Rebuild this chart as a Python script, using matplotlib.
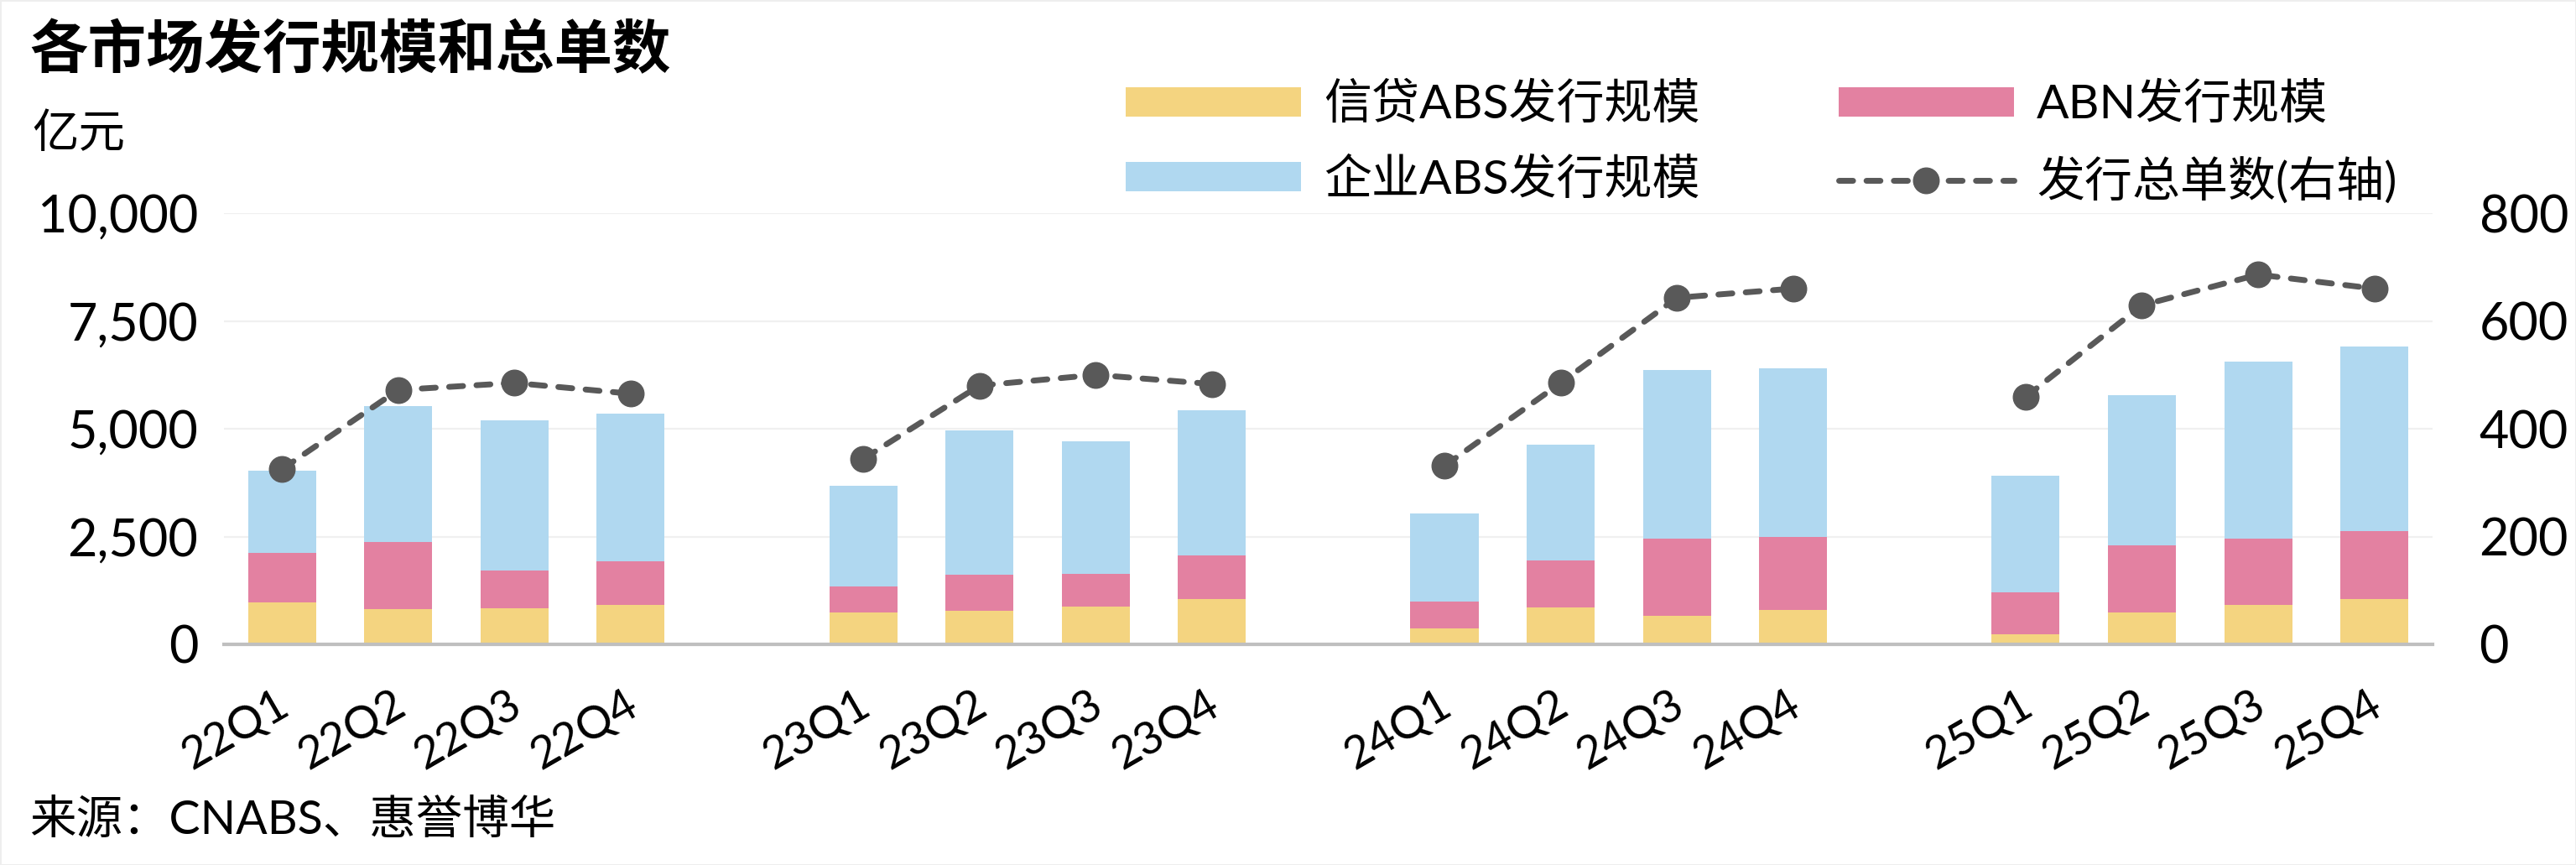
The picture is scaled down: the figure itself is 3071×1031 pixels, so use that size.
import matplotlib
matplotlib.use("Agg")
import matplotlib.pyplot as plt
import matplotlib.transforms as mtransforms
from matplotlib.ticker import FuncFormatter, FixedLocator

plt.rcParams['font.family'] = ['Lato', 'Noto Sans CJK SC', 'DejaVu Sans']

# ---------------- data ----------------
quarters = ["22Q1", "22Q2", "22Q3", "22Q4",
            "23Q1", "23Q2", "23Q3", "23Q4",
            "24Q1", "24Q2", "24Q3", "24Q4",
            "25Q1", "25Q2", "25Q3", "25Q4"]
credit_abs = [967, 811, 832, 909, 743, 774, 877, 1043,
              364, 848, 656, 788, 230, 737, 909, 1043]
abn = [1153, 1563, 888, 1017, 590, 841, 753, 1019,
       634, 1096, 1801, 1706, 968, 1563, 1548, 1583]
corp_abs = [1907, 3144, 3484, 3434, 2344, 3344, 3074, 3358,
            2039, 2686, 3901, 3916, 2710, 3470, 4109, 4283]
deal_count = [325, 472, 485, 465, 344, 480, 500, 483,
              331, 485, 643, 660, 459, 629, 686, 660]
left_ticks = [0, 2500, 5000, 7500, 10000]
right_ticks = [0, 200, 400, 600, 800]

c_credit = "#F4D480"
c_abn = "#E381A1"
c_corp = "#B0D8F0"
c_line = "#595959"

# positions: groups of 4 with one empty slot between years
pos = [g * 5 + q for g in range(4) for q in range(4)]

fig = plt.figure(figsize=(30.71, 10.31), dpi=100)
fig.patch.set_edgecolor("#EEEEEE")
fig.patch.set_linewidth(2)
ax = fig.add_axes([0.0869, 0.2551, 0.9443 - 0.0869, 0.7536 - 0.2551])

w = 0.585
bottom2 = [a + b for a, b in zip(credit_abs, abn)]
h1 = ax.bar(pos, credit_abs, width=w, color=c_credit, zorder=2, label="信贷ABS发行规模")
h2 = ax.bar(pos, abn, width=w, bottom=credit_abs, color=c_abn, zorder=2, label="ABN发行规模")
h3 = ax.bar(pos, corp_abs, width=w, bottom=bottom2, color=c_corp, zorder=2, label="企业ABS发行规模")

ax.set_xlim(-0.5, 18.5)
ax.set_ylim(0, 10000)
ax.yaxis.set_major_locator(FixedLocator(left_ticks))
ax.yaxis.set_major_formatter(FuncFormatter(lambda v, p: f"{int(v):,}"))
ax.grid(axis='y', color="#F0F0F0", linewidth=1.6, zorder=0)
ax.set_axisbelow(True)
for s in ["top", "right", "left"]:
    ax.spines[s].set_visible(False)
ax.spines["bottom"].set_color("#BFBFBF")
ax.spines["bottom"].set_linewidth(3)
ax.spines["bottom"].set_zorder(3)
ax.tick_params(axis='y', length=0, labelsize=44, pad=22)
ax.set_xticks(pos)
ax.set_xticklabels(quarters, rotation=30, ha='right', va='top',
                   rotation_mode='anchor', fontsize=39)
ax.tick_params(axis='x', length=0, pad=33)
offset = mtransforms.ScaledTranslation(-8 / 100, 0, fig.dpi_scale_trans)
for lbl in ax.get_xticklabels():
    lbl.set_transform(lbl.get_transform() + offset)

ax2 = ax.twinx()
ax2.set_ylim(0, 800)
ax2.yaxis.set_major_locator(FixedLocator(right_ticks))
for s in ["top", "right", "left", "bottom"]:
    ax2.spines[s].set_visible(False)
ax2.tick_params(axis='y', length=0, labelsize=44, pad=40)

line_handle = None
for g in range(4):
    xs = pos[g * 4:(g + 1) * 4]
    ys = deal_count[g * 4:(g + 1) * 4]
    ln, = ax2.plot(xs, ys, color=c_line, linewidth=5, linestyle=(0, (2.4, 2.3)),
                   dash_capstyle='round', marker='o', markersize=22,
                   label="发行总单数(右轴)", zorder=4)
    if line_handle is None:
        line_handle = ln

fig.legend([h1, h3, h2, line_handle],
           ["信贷ABS发行规模", "企业ABS发行规模", "ABN发行规模", "发行总单数(右轴)"],
           ncol=2, loc='upper left', bbox_to_anchor=(0.437, 0.905),
           frameon=False, fontsize=41, handlelength=3.67, handleheight=0.57,
           handletextpad=0.48, columnspacing=2.9, labelspacing=0.64,
           borderpad=0, borderaxespad=0)

fig.text(0.0114, 0.942, "各市场发行规模和总单数", fontsize=50, fontweight='bold',
         ha='left', va='center')
fig.text(0.0124, 0.844, "亿元", fontsize=40, ha='left', va='center')
fig.text(0.0114, 0.0514, "来源：CNABS、惠誉博华", fontsize=40, ha='left', va='center')

fig.savefig("out.png", dpi=100)
